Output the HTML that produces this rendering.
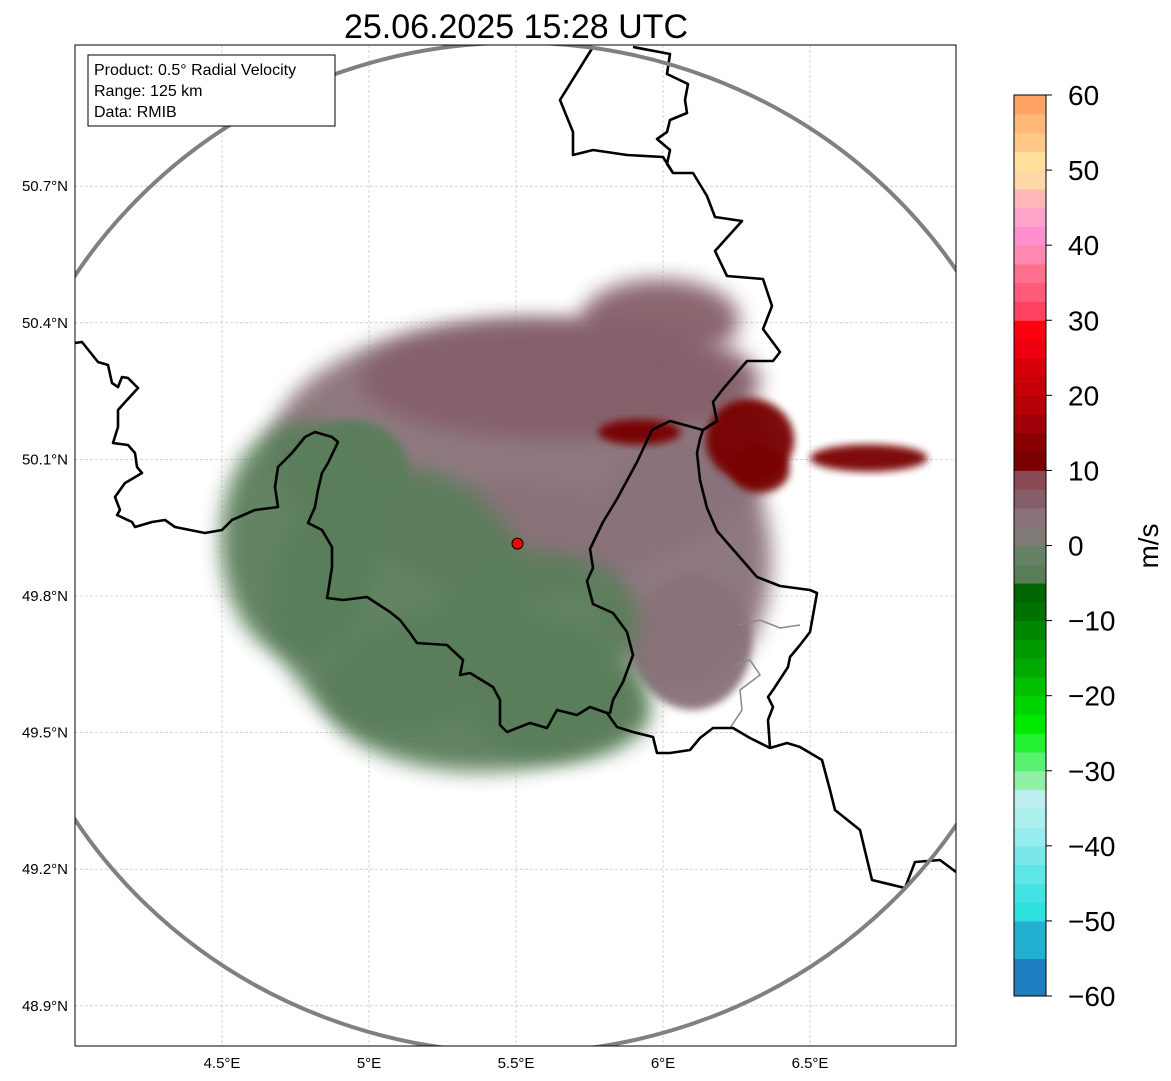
<!DOCTYPE html>
<html><head><meta charset="utf-8">
<style>
body{margin:0;background:#fff;font-family:"Liberation Sans",sans-serif;}
svg{display:block}
</style></head>
<body>
<svg id="chart" width="1171" height="1081" xmlns="http://www.w3.org/2000/svg">
<defs>
<clipPath id="plotclip"><rect x="75" y="45" width="881" height="1001"/></clipPath>
<filter id="soft" x="-20%" y="-20%" width="140%" height="140%"><feGaussianBlur stdDeviation="10"/></filter>
<filter id="soft2" x="-20%" y="-20%" width="140%" height="140%"><feGaussianBlur stdDeviation="4"/></filter>
</defs>
<text x="516" y="38" font-size="34" text-anchor="middle" fill="#000">25.06.2025 15:28 UTC</text>
<g id="grid"></g>
<g id="echo" clip-path="url(#plotclip)"></g>
<g id="borders" clip-path="url(#plotclip)"></g>
<g id="ring" clip-path="url(#plotclip)"></g>
<rect x="75" y="45" width="881" height="1001" fill="none" stroke="#000" stroke-width="1"/>
<g id="axes"></g>
<g>
<rect x="88" y="55" width="247" height="71" fill="#fff" stroke="#000" stroke-width="1"/>
<text x="94" y="75" font-size="16">Product: 0.5° Radial Velocity</text>
<text x="94" y="96" font-size="16">Range: 125 km</text>
<text x="94" y="117" font-size="16">Data: RMIB</text>
</g>
<g id="cbar"></g>
<text transform="translate(1158,546) rotate(-90)" font-size="28" text-anchor="middle">m/s</text>
</svg>
<script>
const NS="http://www.w3.org/2000/svg";
// axis ticks
const lonTicks=[4.5,5,5.5,6,6.5];
const lonLabels=["4.5°E","5°E","5.5°E","6°E","6.5°E"];
const latTicks=[48.9,49.2,49.5,49.8,50.1,50.4,50.7];
const latLabels=["48.9°N","49.2°N","49.5°N","49.8°N","50.1°N","50.4°N","50.7°N"];
// colorbar
const cbBounds=[-60,-55,-50,-47.5,-45,-42.5,-40,-37.5,-35,-32.5,-30,-27.5,-25,-22.5,-20,-17.5,-15,-12.5,-10,-7.5,-5,-2.5,0,2.5,5,7.5,10,12.5,15,17.5,20,22.5,25,27.5,30,32.5,35,37.5,40,42.5,45,47.5,50,52.5,55,57.5,60];
const cbColors=["#1f7ec0","#22b0d0","#2ee0e0","#44e2e2","#5ee6e6","#7ae8ea","#96ecee","#aef0f0","#bceef0","#90f0a8","#5af070","#22f030","#00e800","#00d400","#00c000","#00aa00","#009a00","#008800","#007200","#006400","#5a7e5a","#668266","#7f7a76","#8a727a","#855e69","#8a4a55","#780000","#880000","#a00008","#b80008","#c80008","#d80008","#ee0010","#ff0010","#ff4060","#ff5a78","#ff7090","#ff88b0","#ff90d0","#ffa4c8","#ffb8b8","#ffd8a8","#ffe09a","#ffc886","#ffb878","#ffa464"];
const cbTicks=[-60,-50,-40,-30,-20,-10,0,10,20,30,40,50,60];
// echo regions: lon, lat, radius lon (deg), radius lat (deg), velocity (m/s)
const echoLon=[5.514,5.65,5.99,6.058,5.514,6.10,4.765,5.105,5.378,5.65,4.935,5.58,5.92,6.296,6.33,6.70];
const echoLat=[50.121,50.274,50.406,49.879,49.923,49.70,49.923,49.791,49.594,49.55,50.077,49.747,50.16,50.143,50.077,50.103];
const echoRx=[0.85,0.68,0.27,0.31,0.41,0.20,0.27,0.44,0.54,0.31,0.20,0.34,0.14,0.15,0.10,0.20];
const echoRy=[0.285,0.13,0.09,0.29,0.13,0.15,0.26,0.29,0.18,0.11,0.11,0.15,0.028,0.09,0.05,0.03];
const echoVal=[3,6,6,3,3,3,-3,-3,-3,-3,-3,-3,11,11,11,11];
// radar site
const siteLon=5.505, siteLat=49.915;

function xLon(l){return 369+(l-5)*294;}
function yLat(a){return 596-(a-49.8)*455.3;}
function yCb(v){return 996-(v+60)*(901/120);}
function colorFor(v){for(let i=0;i<cbColors.length;i++){if(v<cbBounds[i+1])return cbColors[i];}return cbColors[cbColors.length-1];}
function mk(tag,attrs,parent){const e=document.createElementNS(NS,tag);for(const k in attrs)e.setAttribute(k,attrs[k]);parent.appendChild(e);return e;}

const grid=document.getElementById('grid'),axes=document.getElementById('axes');
lonTicks.forEach((l,i)=>{const x=xLon(l);
 const g=mk('line',{x1:x,x2:x,y1:45,y2:1046,stroke:'#bbb','stroke-width':0.6,'stroke-dasharray':'3,2'},grid);
 
 
 const t=mk('text',{x:x,y:1068,'font-size':15,'text-anchor':'middle'},axes);t.textContent=lonLabels[i];
 
 
});
latTicks.forEach((a,i)=>{const y=yLat(a);
 const g=mk('line',{x1:75,x2:956,y1:y,y2:y,stroke:'#bbb','stroke-width':0.6,'stroke-dasharray':'3,2'},grid);
 
 
 const t=mk('text',{x:68,y:y+5,'font-size':15,'text-anchor':'end'},axes);t.textContent=latLabels[i];
 
 
});

// echoes
const echo=document.getElementById('echo');
for(let i=0;i<echoLon.length;i++){
 const big=echoRx[i]>0.25;
 const e=mk('ellipse',{cx:xLon(echoLon[i]),cy:yLat(echoLat[i]),rx:echoRx[i]*294,ry:echoRy[i]*455.3,fill:colorFor(echoVal[i]),filter:big?'url(#soft)':'url(#soft2)',opacity:0.95},echo);
 
 
}
const site=mk('circle',{cx:xLon(siteLon),cy:yLat(siteLat),r:5.5,fill:'#f00',stroke:'#000','stroke-width':1},document.getElementById('chart'));



// borders (pixel traces)
const borderPaths=[
"75,343 82,342 98,362 108,365 112,383 118,387 122,377 128,378 138,388 127,400 118,410 118,427 113,443 128,445 135,453 137,467 142,473 125,483 115,497 120,510 117,515 132,522 135,527 152,522 165,520 175,527 205,533 222,530 232,520 255,510 278,507 275,487 278,467 292,453 305,437 315,432 332,437 338,442 328,463 322,473 318,490 315,507 308,523 322,530 332,547 332,567 328,593 327,598 343,600 367,597 390,612 400,620 410,633 417,643 447,645 463,660 460,675 470,673 493,687 500,700 500,725 507,732 530,723 547,728 557,710 577,715 590,707 607,713 617,727 633,732 653,737 657,753 670,753 690,750 700,738 713,728 733,728 750,738 770,748 787,743 800,747 822,760 830,790 835,810 860,830 872,880 905,888 915,862 940,860 956,872",
"633,47 670,54 667,74 688,84 685,100 687,113 670,120 667,132 657,139 670,150 667,164 673,173 693,173 707,196 715,217 742,221 715,251 727,276 763,279 772,306 763,329 780,352 773,361 747,361 723,389 713,402 717,421 703,430 700,439 697,453 700,480 707,508 717,531 737,554 757,577 780,586 810,590 817,593 810,632 800,645 790,657 788,667 773,690 768,697 773,707 768,720 770,748",
"717,421 703,430 670,421 652,430 637,462 617,499 603,522 590,549 593,568 587,581 593,604 613,613 627,632 633,655 623,682 613,700 610,713 607,713",
"593,47 583,63 560,100 573,132 573,155 593,150 627,155 663,157 670,168 673,173"
];
const bd=document.getElementById('borders');
const rivers=["738,625 760,620 780,628 800,625","735,665 750,660 760,675 740,690 742,710 730,728"];
rivers.forEach(p=>{const r=mk('polyline',{points:p,fill:'none',stroke:'#888','stroke-width':1.5},bd);
 
 });
borderPaths.forEach(p=>{const r=mk('polyline',{points:p,fill:'none',stroke:'#000','stroke-width':2.6,'stroke-linejoin':'round'},bd);
 
 });

// range ring
const ring=mk('ellipse',{cx:xLon(siteLon),cy:yLat(siteLat)+4,rx:525,ry:505,fill:'none',stroke:'#808080','stroke-width':4},document.getElementById('ring'));



// colorbar
const cb=document.getElementById('cbar');
for(let i=0;i<cbColors.length;i++){
 const y1=yCb(cbBounds[i+1]),y0=yCb(cbBounds[i]);
 const r=mk('rect',{x:1014,y:y1,width:32,height:y0-y1+0.5,fill:cbColors[i]},cb);
 
 
}
mk('rect',{x:1014,y:yCb(60),width:32,height:yCb(-60)-yCb(60),fill:'none',stroke:'#000','stroke-width':1},cb);
cbTicks.forEach(v=>{const y=yCb(v);
 mk('line',{x1:1046,x2:1052,y1:y,y2:y,stroke:'#000'},cb);
 const t=mk('text',{x:1068,y:y+10,'font-size':28},cb);t.textContent=(v<0?'\u2212'+(-v):String(v));
 
 
});
</script>
</body></html>
